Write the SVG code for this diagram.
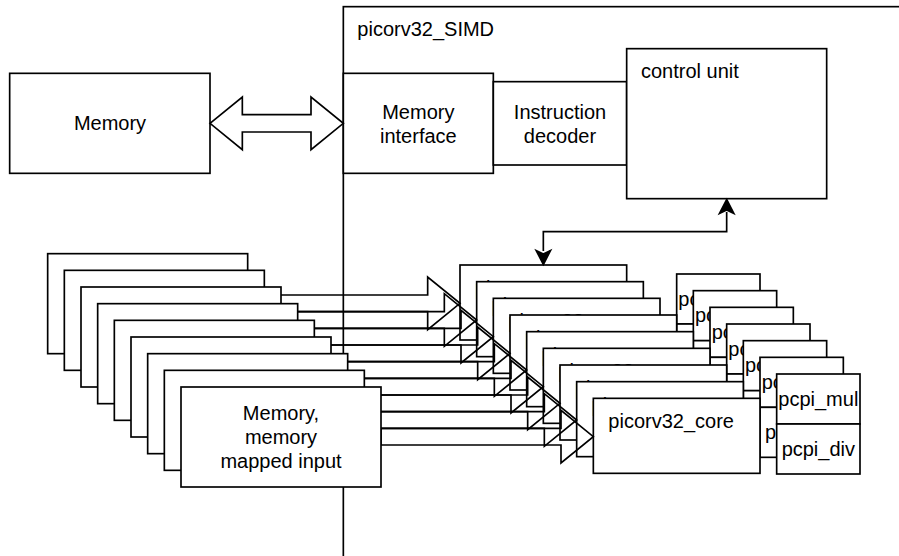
<svg xmlns="http://www.w3.org/2000/svg" width="899" height="556" viewBox="0 0 899 556">
  <style>
    .box { fill: #ffffff; stroke: #000000; stroke-width: 1.67; }
    .wire { fill: none; stroke: #000000; stroke-width: 1.67; stroke-linejoin: miter; }
    .head { fill: #000000; stroke: #000000; stroke-width: 1.67; stroke-linejoin: miter; }
    .t { font-family: "Liberation Sans", Arial, Helvetica, sans-serif; font-size: 20px; fill: #000000; }
    .mid { text-anchor: middle; }
  </style>

  <!-- SIMD container (extends past the canvas edges) -->
  <g id="picorv32_simd">
    <rect class="box" x="343.33" y="6.67" width="620" height="600"/>
    <text class="t" x="357.33" y="36">picorv32_SIMD</text>
  </g>

  <g id="memory">
    <rect class="box" x="9.67" y="73.33" width="200.33" height="100"/>
    <text class="t mid" x="110" y="130">Memory</text>
  </g>

  <g id="memory_interface">
    <rect class="box" x="343.33" y="73.33" width="150" height="100"/>
    <text class="t mid" x="418.33" y="118.5">Memory</text>
    <text class="t mid" x="418.33" y="143.3">interface</text>
  </g>

  <g id="instruction_decoder">
    <rect class="box" x="493.33" y="81.67" width="133.33" height="83.33"/>
    <text class="t mid" x="560" y="118.5">Instruction</text>
    <text class="t mid" x="560" y="143.3">decoder</text>
  </g>

  <g id="control_unit">
    <rect class="box" x="626.67" y="48.67" width="200" height="150"/>
    <text class="t" x="641" y="77.7">control unit</text>
  </g>

  <!-- co-processor pairs: pcpi_mul on top, pcpi_div below -->
  <g id="pcpi_0">
    <rect class="box" x="676.67" y="274" width="83.33" height="50"/>
    <rect class="box" x="676.67" y="324" width="83.33" height="50"/>
    <text class="t mid" x="718.33" y="305.5">pcpi_mul</text>
    <text class="t mid" x="718.33" y="355.5">pcpi_div</text>
  </g>
  <g id="pcpi_1">
    <rect class="box" x="693.33" y="290.67" width="83.33" height="50"/>
    <rect class="box" x="693.33" y="340.67" width="83.33" height="50"/>
    <text class="t mid" x="735" y="322.17">pcpi_mul</text>
    <text class="t mid" x="735" y="372.17">pcpi_div</text>
  </g>
  <g id="pcpi_2">
    <rect class="box" x="710" y="307.33" width="83.33" height="50"/>
    <rect class="box" x="710" y="357.33" width="83.33" height="50"/>
    <text class="t mid" x="751.67" y="338.83">pcpi_mul</text>
    <text class="t mid" x="751.67" y="388.83">pcpi_div</text>
  </g>
  <g id="pcpi_3">
    <rect class="box" x="726.67" y="324" width="83.33" height="50"/>
    <rect class="box" x="726.67" y="374" width="83.33" height="50"/>
    <text class="t mid" x="768.33" y="355.5">pcpi_mul</text>
    <text class="t mid" x="768.33" y="405.5">pcpi_div</text>
  </g>
  <g id="pcpi_4">
    <rect class="box" x="743.33" y="340.67" width="83.33" height="50"/>
    <rect class="box" x="743.33" y="390.67" width="83.33" height="50"/>
    <text class="t mid" x="785" y="372.17">pcpi_mul</text>
    <text class="t mid" x="785" y="422.17">pcpi_div</text>
  </g>
  <g id="pcpi_5">
    <rect class="box" x="760" y="357.33" width="83.33" height="50"/>
    <rect class="box" x="760" y="407.33" width="83.33" height="50"/>
    <text class="t mid" x="801.67" y="388.83">pcpi_mul</text>
    <text class="t mid" x="801.67" y="438.83">pcpi_div</text>
  </g>
  <g id="pcpi_6">
    <rect class="box" x="776.67" y="374" width="83.33" height="50"/>
    <rect class="box" x="776.67" y="424" width="83.33" height="50"/>
    <text class="t mid" x="818.33" y="405.5">pcpi_mul</text>
    <text class="t mid" x="818.33" y="455.5">pcpi_div</text>
  </g>

  <!-- stacked cores -->
  <g id="core_0"><rect class="box" x="460" y="265" width="166.67" height="75"/><text class="t" x="475" y="295">picorv32_core</text></g>
  <g id="core_1"><rect class="box" x="476.67" y="281.67" width="166.67" height="75"/><text class="t" x="491.67" y="311.67">picorv32_core</text></g>
  <g id="core_2"><rect class="box" x="493.33" y="298.33" width="166.67" height="75"/><text class="t" x="508.33" y="328.33">picorv32_core</text></g>
  <g id="core_3"><rect class="box" x="510" y="315" width="166.67" height="75"/><text class="t" x="525" y="345">picorv32_core</text></g>
  <g id="core_4"><rect class="box" x="526.67" y="331.67" width="166.67" height="75"/><text class="t" x="541.67" y="361.67">picorv32_core</text></g>
  <g id="core_5"><rect class="box" x="543.33" y="348.33" width="166.67" height="75"/><text class="t" x="558.33" y="378.33">picorv32_core</text></g>
  <g id="core_6"><rect class="box" x="560" y="365" width="166.67" height="75"/><text class="t" x="575" y="395">picorv32_core</text></g>
  <g id="core_7"><rect class="box" x="576.67" y="381.67" width="166.67" height="75"/><text class="t" x="591.67" y="411.67">picorv32_core</text></g>
  <g id="core_8"><rect class="box" x="593.33" y="398.33" width="166.67" height="75"/><text class="t" x="608.33" y="428.33">picorv32_core</text></g>

  <g id="connectors">
    <!-- memory bus: double-headed block arrow -->
    <polygon class="wire" points="210,123.33 242.33,97 242.33,114.67 311,114.67 311,97 343.33,123.33 311,149.67 311,132 242.33,132 242.33,149.67"/>
    <!-- control unit <-> core -->
    <path class="wire" d="M726.67,212 V231.67 H543.33 V251"/>
    <polygon class="head" points="726.67,199.5 733.8,213.5 726.67,210 719.5,213.5"/>
    <polygon class="head" points="543.33,264.5 550.5,250.5 543.33,254 536.2,250.5"/>
    <!-- memory-mapped input -> core block arrows -->
    <polygon class="wire" points="247.67,295 427.67,295 427.67,277 460,303.33 427.67,329.67 427.67,311.67 247.67,311.67"/>
    <polygon class="wire" points="264.33,311.67 444.33,311.67 444.33,293.67 476.67,320 444.33,346.33 444.33,328.33 264.33,328.33"/>
    <polygon class="wire" points="281,328.33 461,328.33 461,310.33 493.33,336.67 461,363 461,345 281,345"/>
    <polygon class="wire" points="297.67,345 477.67,345 477.67,327 510,353.33 477.67,379.67 477.67,361.67 297.67,361.67"/>
    <polygon class="wire" points="314.33,361.67 494.33,361.67 494.33,343.67 526.67,370 494.33,396.33 494.33,378.33 314.33,378.33"/>
    <polygon class="wire" points="331,378.33 511,378.33 511,360.33 543.33,386.67 511,413 511,395 331,395"/>
    <polygon class="wire" points="347.67,395 527.67,395 527.67,377 560,403.33 527.67,429.67 527.67,411.67 347.67,411.67"/>
    <polygon class="wire" points="364.33,411.67 544.33,411.67 544.33,393.67 576.67,420 544.33,446.33 544.33,428.33 364.33,428.33"/>
    <polygon class="wire" points="381,428.33 561,428.33 561,410.33 593.33,436.67 561,463 561,445 381,445"/>
  </g>

  <!-- stacked memory / memory-mapped input blocks -->
  <g id="mem_in_0"><rect class="box" x="47.67" y="253.67" width="200" height="100"/></g>
  <g id="mem_in_1"><rect class="box" x="64.33" y="270.33" width="200" height="100"/></g>
  <g id="mem_in_2"><rect class="box" x="81" y="287" width="200" height="100"/></g>
  <g id="mem_in_3"><rect class="box" x="97.67" y="303.67" width="200" height="100"/></g>
  <g id="mem_in_4"><rect class="box" x="114.33" y="320.33" width="200" height="100"/></g>
  <g id="mem_in_5"><rect class="box" x="131" y="337" width="200" height="100"/></g>
  <g id="mem_in_6"><rect class="box" x="147.67" y="353.67" width="200" height="100"/></g>
  <g id="mem_in_7"><rect class="box" x="164.33" y="370.33" width="200" height="100"/></g>
  <g id="mem_in_8">
    <rect class="box" x="181" y="387" width="200" height="100"/>
    <text class="t mid" x="281" y="420">Memory,</text>
    <text class="t mid" x="281" y="444">memory</text>
    <text class="t mid" x="281" y="468">mapped input</text>
  </g>
</svg>
